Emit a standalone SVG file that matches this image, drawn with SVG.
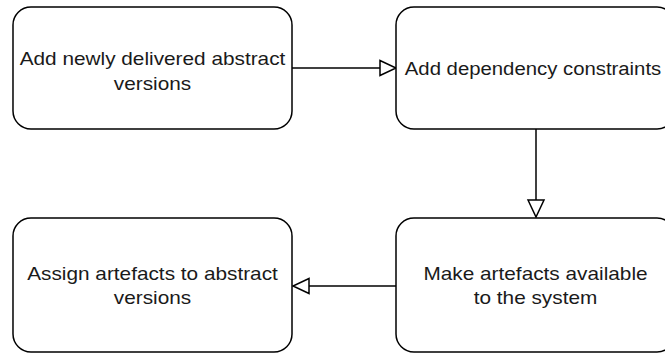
<svg xmlns="http://www.w3.org/2000/svg" width="665" height="354" viewBox="0 0 665 354">
<style>
.box{fill:#fff;stroke:#000;stroke-width:1.5}
.lbl{font-family:"Liberation Sans",Arial,sans-serif;font-size:18px;fill:#1a1a1a;text-anchor:middle}
.edge{fill:none;stroke:#000;stroke-width:1.5}
.head{fill:#fff;stroke:#000;stroke-width:1.5;stroke-linejoin:miter}
</style>
<rect width="665" height="354" fill="#fff"/>
<g id="connectors">
<line class="edge" x1="292" y1="68" x2="380" y2="68"/>
<polygon class="head" points="380,60.5 396,68 380,75.5"/>
<line class="edge" x1="536" y1="129" x2="536" y2="200"/>
<polygon class="head" points="528,200 536,217 544,200"/>
<line class="edge" x1="396" y1="286" x2="309" y2="286"/>
<polygon class="head" points="309,278.5 293,286 309,293.5"/>
</g>
<g id="n1">
<rect class="box" x="13" y="7" width="279" height="122" rx="18"/>
<text class="lbl" transform="translate(152.5,65) scale(1.155,1)">Add newly delivered abstract</text>
<text class="lbl" transform="translate(152.5,90) scale(1.155,1)">versions</text>
</g>
<g id="n2">
<rect class="box" x="396" y="7" width="279" height="122" rx="18"/>
<text class="lbl" transform="translate(533,75) scale(1.13,1)">Add dependency constraints</text>
</g>
<g id="n3">
<rect class="box" x="396" y="218" width="279" height="134" rx="18"/>
<text class="lbl" transform="translate(535.5,280) scale(1.155,1)">Make artefacts available</text>
<text class="lbl" transform="translate(535.5,304) scale(1.155,1)">to the system</text>
</g>
<g id="n4">
<rect class="box" x="13" y="218" width="279" height="134" rx="18"/>
<text class="lbl" transform="translate(152.5,280) scale(1.155,1)">Assign artefacts to abstract</text>
<text class="lbl" transform="translate(152.5,304) scale(1.155,1)">versions</text>
</g>
</svg>
